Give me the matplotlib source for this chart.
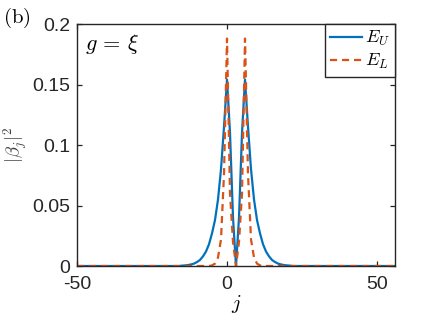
import numpy as np
import matplotlib
matplotlib.use("Agg")
import matplotlib.pyplot as plt

# site index j and probabilities
j = np.arange(-50, 57)

# E_U: nonzero on j = -15 .. 21
j_u = np.arange(-15, 22)
beta_u = [0.0003, 0.0005, 0.0008, 0.0013, 0.002, 0.0033, 0.005, 0.008, 0.012,
          0.018, 0.027, 0.038, 0.055, 0.08, 0.115, 0.154, 0.11, 0.04, 0.0,
          0.04, 0.11, 0.154, 0.115, 0.08, 0.055, 0.038, 0.027, 0.018, 0.012,
          0.008, 0.005, 0.0033, 0.002, 0.0013, 0.0008, 0.0005, 0.0003]

# E_L: nonzero on j = -5 .. 11
j_l = np.arange(-5, 12)
beta_l = [0.0005, 0.002, 0.007, 0.022, 0.076, 0.188, 0.06, 0.02, 0.0,
          0.02, 0.06, 0.188, 0.076, 0.022, 0.007, 0.002, 0.0005]

y_ticks = [0, 0.05, 0.1, 0.15, 0.2]
y_ticklabels = ["0", "0.05", "0.1", "0.15", "0.2"]
x_ticks = [-50, 0, 50]


def main():
    plt.rcParams["font.family"] = ["Liberation Sans", "DejaVu Sans"]
    plt.rcParams["mathtext.fontset"] = "cm"
    plt.rcParams["axes.unicode_minus"] = False

    E_U = np.zeros(len(j))
    E_L = np.zeros(len(j))
    E_U[np.searchsorted(j, j_u)] = beta_u
    E_L[np.searchsorted(j, j_l)] = beta_l

    fig = plt.figure(figsize=(4.36, 3.27), dpi=100)
    ax = fig.add_axes([0.1766, 0.1865, 0.7294, 0.7401])

    ax.plot(j, E_U, color="#0072BD", lw=1.6, label=r"$E_U$")
    ax.plot(j, E_L, color="#D95319", lw=1.6, ls=(0, (3.2, 2.2)), label=r"$E_L$")

    ax.set_xlim(-50, 56)
    ax.set_ylim(0, 0.2)
    ax.set_xticks(x_ticks)
    ax.set_yticks(y_ticks)
    ax.set_yticklabels(y_ticklabels)
    ax.tick_params(direction="in", top=True, right=True, labelsize=14,
                   length=3.5, width=0.9, color="#262626", labelcolor="#262626")
    ax.tick_params(axis="x", pad=7.5)
    ax.tick_params(axis="y", pad=5)
    for s in ax.spines.values():
        s.set_color("#262626")
        s.set_linewidth(1.0)

    ax.set_xlabel(r"$j$", fontsize=15, labelpad=0)
    ax.set_ylabel(r"$|\beta_j|^2$", fontsize=13.5, color="#404040", labelpad=2)

    ax.text(0.025, 0.965, r"$g\,=\,\xi$", transform=ax.transAxes, fontsize=16,
            va="top", ha="left")
    fig.text(0.008, 0.945, r"$\mathrm{(b)}$", fontsize=15, va="center", ha="left")

    leg = ax.legend(loc="upper right", fontsize=13, frameon=True, fancybox=False,
                    framealpha=1, edgecolor="#262626", borderaxespad=0,
                    handlelength=1.75, handletextpad=0.15, borderpad=0.3,
                    labelspacing=0.2)
    leg.get_frame().set_linewidth(1.0)

    fig.savefig("out.png", dpi=100)


if __name__ == "__main__":
    main()
